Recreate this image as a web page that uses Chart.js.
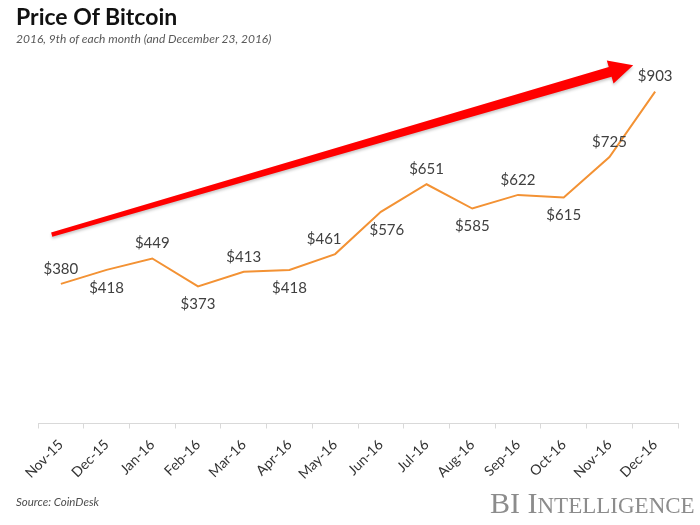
<!DOCTYPE html>
<html>
<head>
<meta charset="utf-8">
<script src="https://cdn.jsdelivr.net/npm/chart.js@4/dist/chart.umd.min.js"></script>
<style>
  html, body { margin: 0; padding: 0; background: #ffffff; }
  #wrap { position: relative; width: 700px; height: 525px; overflow: hidden; }
  #c { position: absolute; left: 0; top: 0; }
  .t { position: absolute; white-space: nowrap; font-family: Lato, "Liberation Sans", sans-serif; }
  #title { left: 16px; top: 2px; font-size: 23px; font-weight: bold; color: #111; }
  #sub { left: 16px; top: 31px; font-size: 12px; font-style: italic; color: #595959; }
  #src { left: 16px; top: 495px; font-size: 11.5px; font-style: italic; color: #4d4d4d; }
  #bi { left: 490px; top: 486px; font-family: "Liberation Serif", "DejaVu Serif", serif; color: #8c8c8c; font-size: 30px; }
  #bi .sc { font-size: 23px; }
</style>
</head>
<body>
<div id="wrap">
  <canvas id="c" width="700" height="525"></canvas>
  <div class="t" id="title">Price Of Bitcoin</div>
  <div class="t" id="sub">2016, 9th of each month (and December 23, 2016)</div>
  <div class="t" id="src">Source: CoinDesk</div>
  <div class="t" id="bi">BI I<span class="sc">NTELLIGENCE</span></div>
</div>
<script>
// ---- data ----
const months = ["Nov-15","Dec-15","Jan-16","Feb-16","Mar-16","Apr-16","May-16","Jun-16","Jul-16","Aug-16","Sep-16","Oct-16","Nov-16","Dec-16"];
const prices = [380, 418, 449, 373, 413, 418, 461, 576, 651, 585, 622, 615, 725, 903];
// label placement relative to the line (style)
const labelSide = ["above","below","above","below","above","below","above","below","above","below","above","below","above","above"];
const labelShift = [0, 0, 0, 0, 0, 0, -11, 6, 0, 0, 0, 0, 0, 0];
// trend arrow annotation, in data units: [category index, price]
const arrowFrom = [-0.2, 514];
const arrowTo = [12.52, 975];

const labelsPlugin = {
  id: 'valueLabels',
  afterDatasetsDraw(chart) {
    const ctx = chart.ctx;
    const meta = chart.getDatasetMeta(0);
    ctx.save();
    ctx.font = '15px Lato, "Liberation Sans", sans-serif';
    ctx.fillStyle = '#404040';
    ctx.textAlign = 'center';
    ctx.textBaseline = 'middle';
    meta.data.forEach((pt, i) => {
      const dy = labelSide[i] === 'above' ? -15 : 18;
      ctx.fillText('$' + prices[i], pt.x + labelShift[i], pt.y + dy);
    });
    ctx.restore();
  }
};

const arrowPlugin = {
  id: 'trendArrow',
  afterDatasetsDraw(chart) {
    const xs = chart.scales.x, ys = chart.scales.y;
    const x0 = xs.getPixelForValue(arrowFrom[0]), y0 = ys.getPixelForValue(arrowFrom[1]);
    const x1 = xs.getPixelForValue(arrowTo[0]), y1 = ys.getPixelForValue(arrowTo[1]);
    const dx = x1 - x0, dy = y1 - y0, len = Math.hypot(dx, dy);
    const ux = dx / len, uy = dy / len, nx = -uy, ny = ux;
    const L = 24, H = 12, w0 = 2.2, w1 = 5;
    const bx = x1 - ux * L, by = y1 - uy * L;
    const ctx = chart.ctx;
    ctx.save();
    ctx.shadowColor = 'rgba(0,0,0,0.22)';
    ctx.shadowBlur = 3;
    ctx.shadowOffsetY = 2;
    ctx.fillStyle = '#ff0000';
    ctx.beginPath();
    ctx.moveTo(x0 + nx * w0, y0 + ny * w0);
    ctx.lineTo(bx + nx * w1, by + ny * w1);
    ctx.lineTo(bx + nx * H, by + ny * H);
    ctx.lineTo(x1, y1);
    ctx.lineTo(bx - nx * H, by - ny * H);
    ctx.lineTo(bx - nx * w1, by - ny * w1);
    ctx.lineTo(x0 - nx * w0, y0 - ny * w0);
    ctx.closePath();
    ctx.fill();
    ctx.restore();
  }
};

new Chart(document.getElementById('c'), {
  type: 'line',
  data: {
    labels: months,
    datasets: [{
      data: prices,
      borderColor: '#F39234',
      borderWidth: 2,
      pointRadius: 0,
      pointHoverRadius: 0,
      tension: 0,
      fill: false
    }]
  },
  options: {
    responsive: false,
    animation: false,
    events: [],
    layout: { padding: { left: 38, right: 22, top: 56, bottom: 41.5 } },
    plugins: { legend: { display: false }, tooltip: { enabled: false }, title: { display: false } },
    scales: {
      x: {
        type: 'category',
        offset: true,
        grid: { offset: true, drawOnChartArea: false, drawTicks: true, tickLength: 5, color: '#d9d9d9' },
        border: { color: '#d9d9d9', width: 1 },
        ticks: {
          minRotation: 45, maxRotation: 45, autoSkip: false, padding: 8,
          color: '#333333',
          font: { family: 'Lato, "Liberation Sans", sans-serif', size: 14 }
        },
        afterFit(s) { s.height = 60; }
      },
      y: { display: false, min: 0, max: 1000 }
    }
  },
  plugins: [arrowPlugin, labelsPlugin]
});
</script>
</body>
</html>
